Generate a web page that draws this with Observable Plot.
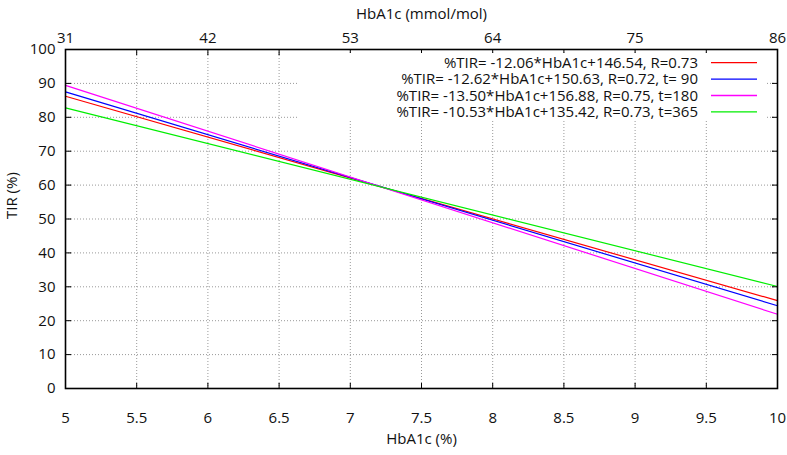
<!DOCTYPE html>
<html>
<head>
<meta charset="utf-8">
<script src="https://cdn.jsdelivr.net/npm/d3@7"></script>
<script src="https://cdn.jsdelivr.net/npm/@observablehq/plot@0.6"></script>
<style>
  html, body { margin: 0; padding: 0; background: #fff; }
</style>
</head>
<body>
<div id="wrap"></div>
<script>
// ---- data ----
const hba1cPct = [5, 10];                       // x range of the fitted lines
const labels = [
  "%TIR= -12.06*HbA1c+146.54, R=0.73",
  "%TIR= -12.62*HbA1c+150.63, R=0.72, t= 90",
  "%TIR= -13.50*HbA1c+156.88, R=0.75, t=180",
  "%TIR= -10.53*HbA1c+135.42, R=0.73, t=365"
];
const colors = ["#ff0000", "#0000ff", "#ff00ff", "#00ee00"];
const tirAll  = [86.2, 25.9];   // TIR at HbA1c 5 and 10
const tir90   = [87.5, 24.4];
const tir180  = [89.4, 21.9];
const tir365  = [82.8, 30.1];
const xTicks = [5, 5.5, 6, 6.5, 7, 7.5, 8, 8.5, 9, 9.5, 10];
const x2Ticks = [5, 6, 7, 8, 9, 10];
const x2Labels = ["31", "42", "53", "64", "75", "86"];
const yTicks = [0, 10, 20, 30, 40, 50, 60, 70, 80, 90, 100];

const seriesVals = [tirAll, tir90, tir180, tir365];
const rows = [];
seriesVals.forEach((vals, i) => vals.forEach((v, j) => rows.push({s: labels[i], x: hba1cPct[j], y: v})));

const font = "Open Sans, sans-serif";
const tickOpts = {length: 5, anchor: "start", r: 0, stroke: "black", strokeWidth: 1};

const chart = Plot.plot({
  width: 787,
  height: 455,
  marginLeft: 65,
  marginRight: 10,
  marginTop: 49,
  marginBottom: 67,
  style: {fontFamily: font, fontSize: "15px", background: "white"},
  x: {domain: [5, 10], axis: null},
  y: {domain: [0, 100], axis: null},
  color: {domain: labels, range: colors},
  marks: [
    Plot.gridX(xTicks, {stroke: "#999", strokeOpacity: 1, strokeDasharray: "1,2"}),
    Plot.gridY(yTicks, {stroke: "#999", strokeOpacity: 1, strokeDasharray: "1,2"}),
    Plot.line(rows, {x: "x", y: "y", z: "s", stroke: "s", strokeWidth: 1.2}),
    // inward tick marks
    Plot.vector(xTicks, {x: d => d, frameAnchor: "bottom", rotate: 0, ...tickOpts}),
    Plot.vector(xTicks, {x: d => d, frameAnchor: "top", rotate: 180, ...tickOpts}),
    Plot.vector(yTicks, {y: d => d, frameAnchor: "left", rotate: 90, ...tickOpts}),
    Plot.vector(yTicks, {y: d => d, frameAnchor: "right", rotate: -90, ...tickOpts}),
    Plot.frame({stroke: "black", strokeWidth: 1.6}),
    // tick labels
    Plot.text(xTicks, {x: d => d, frameAnchor: "bottom", dy: 34, text: d => String(d), fill: "#111"}),
    Plot.text(x2Ticks, {x: d => d, frameAnchor: "top", dy: -17, text: (d, i) => x2Labels[i], fill: "#111"}),
    Plot.text(yTicks, {y: d => d, frameAnchor: "left", dx: -10, textAnchor: "end", text: d => String(d), fill: "#111"}),
    // axis titles
    Plot.text(["HbA1c (%)"], {frameAnchor: "bottom", dy: 55, fill: "#111"}),
    Plot.text(["HbA1c (mmol/mol)"], {frameAnchor: "top", dy: -41, fill: "#111"}),
    Plot.text(["TIR (%)"], {frameAnchor: "left", dx: -53, rotate: -90, fill: "#111"})
  ]
});

document.getElementById("wrap").appendChild(chart);

// opaque key, like gnuplot's
const svg = d3.select(chart);
const key = svg.append("g").attr("font-family", font).attr("font-size", 15);
key.append("rect").attr("x", 297).attr("y", 53).attr("width", 468).attr("height", 68).attr("fill", "white");
labels.forEach((lab, i) => {
  const cy = 62.7 + i * 16.4;
  key.append("text").attr("x", 698).attr("y", cy).attr("dy", "0.35em")
    .attr("text-anchor", "end").attr("fill", "#111").text(lab);
  key.append("line").attr("x1", 711).attr("x2", 757).attr("y1", cy).attr("y2", cy)
    .attr("stroke", colors[i]).attr("stroke-width", 1.3);
});
</script>
</body>
</html>
